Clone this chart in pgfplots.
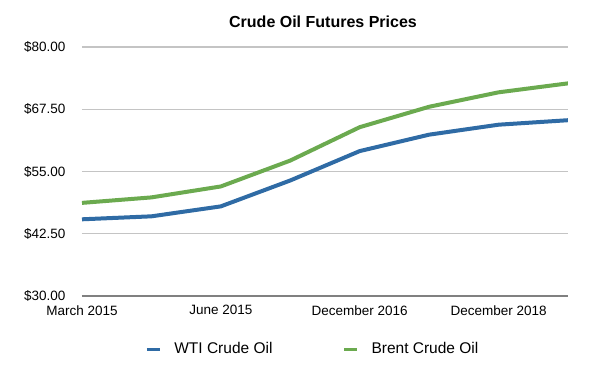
\documentclass[border=0pt]{standalone}
\usepackage{pgfplots}
\pgfplotsset{compat=1.18}
\usepackage{fontspec}
\setmainfont{Liberation Sans}
\definecolor{wti}{HTML}{2F6BA5}
\definecolor{brent}{HTML}{6BAA4F}
\definecolor{gridc}{HTML}{C4C4C4}
\begin{document}
\begin{tikzpicture}[x=1pt,y=1pt]
\path (0,0) rectangle (590,368);
\begin{axis}[
  at={(82pt,72pt)}, anchor=south west,
  scale only axis, width=486pt, height=249pt,
  xmin=0, xmax=7, ymin=30, ymax=80,
  xtick={0,2,4,6},
  xticklabels={March 2015,June 2015,December 2016,December 2018},
  ytick={30,42.5,55,67.5,80},
  yticklabels={\$30.00,\$42.50,\$55.00,\$67.50,\$80.00},
  axis line style={draw=none},
  major tick length=0pt,
  ymajorgrids, grid style={gridc, line width=1.2pt},
  tick label style={font=\fontsize{13.5}{15}\selectfont, text=black},
  xticklabel style={yshift=-6pt},
  yticklabel style={xshift=-13pt},
  legend style={at={(0.475,-0.213)}, anchor=center, draw=none, legend columns=2,
    font=\fontsize{15.5}{17}\selectfont,
    /tikz/every odd column/.append style={column sep=11pt},
    /tikz/every even column/.append style={column sep=68pt}},
  legend image code/.code={\draw[#1, line width=3pt] (0pt,0pt) -- (13pt,0pt);},
]
\draw[gray, line width=1.2pt] (axis cs:0,30) -- (axis cs:7,30);
\addplot[wti, line width=4pt] coordinates {
 (0,45.4) (1,46.0) (2,48.0) (3,53.2) (4,59.1) (5,62.4) (6,64.4) (7,65.3)};
\addlegendentry{WTI Crude Oil}
\addplot[brent, line width=4pt] coordinates {
 (0,48.7) (1,49.8) (2,52.0) (3,57.2) (4,63.9) (5,68.0) (6,70.9) (7,72.7)};
\addlegendentry{Brent Crude Oil}
\end{axis}
\node[font=\bfseries\fontsize{16}{18}\selectfont] at (323,346) {Crude Oil Futures Prices};
\end{tikzpicture}
\end{document}
